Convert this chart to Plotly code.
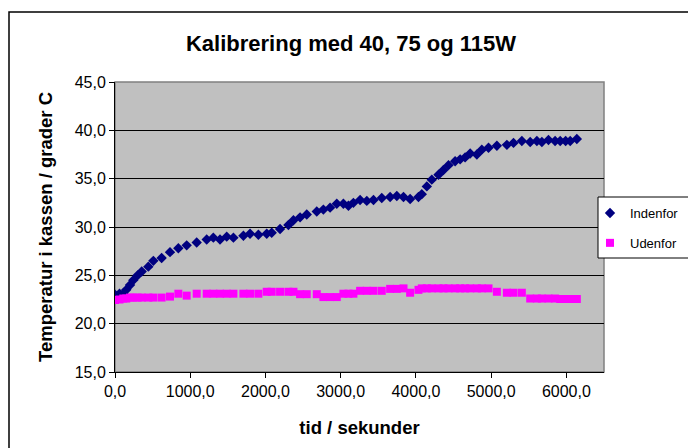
import plotly.graph_objects as go

# time (s) of each reading
tid = [0, 60, 110, 150, 200, 243, 300, 355, 443, 510, 620, 731, 842, 953, 1086,
       1219, 1307, 1396, 1485, 1574, 1707, 1795, 1906, 2017, 2083, 2194, 2305,
       2372, 2460, 2549, 2682, 2770, 2859, 2948, 3036, 3103, 3169, 3258, 3347,
       3436, 3546, 3657, 3746, 3835, 3923, 4034, 4078, 4145, 4211, 4300, 4366,
       4433, 4521, 4588, 4654, 4721, 4810, 4876, 4965, 5076, 5209, 5297, 5408,
       5519, 5608, 5674, 5762, 5850, 5918, 5990, 6051, 6139]

indenfor = [23.0, 23.1, 23.1, 23.5, 24.0, 24.5, 25.0, 25.4, 25.9, 26.5, 26.8,
            27.4, 27.8, 28.1, 28.4, 28.7, 28.9, 28.7, 29.0, 28.9, 29.1, 29.3,
            29.2, 29.3, 29.4, 29.8, 30.2, 30.7, 31.0, 31.3, 31.6, 31.8, 32.0,
            32.4, 32.4, 32.2, 32.5, 32.8, 32.7, 32.8, 33.0, 33.1, 33.2, 33.1,
            32.9, 33.1, 33.4, 34.2, 34.9, 35.4, 35.9, 36.4, 36.8, 37.0, 37.2,
            37.6, 37.5, 38.0, 38.2, 38.4, 38.5, 38.7, 38.9, 38.8, 38.9, 38.8,
            39.0, 38.9, 38.9, 38.9, 38.9, 39.1]

udenfor = [22.45, 22.5, 22.6, 22.6, 22.7, 22.7, 22.7, 22.7, 22.7, 22.7, 22.7,
           22.8, 23.1, 22.9, 23.1, 23.1, 23.1, 23.1, 23.1, 23.1, 23.1, 23.1,
           23.1, 23.3, 23.3, 23.3, 23.3, 23.3, 23.05, 23.05, 23.05, 22.75, 22.75,
           22.75, 23.1, 23.1, 23.1, 23.4, 23.4, 23.4, 23.4, 23.6, 23.6, 23.65,
           23.2, 23.5, 23.65, 23.65, 23.65, 23.65, 23.65, 23.65, 23.65, 23.65,
           23.65, 23.65, 23.65, 23.65, 23.65, 23.3, 23.2, 23.2, 23.2, 22.6,
           22.6, 22.6, 22.6, 22.6, 22.55, 22.55, 22.55, 22.55]

x_ticks = [0, 1000, 2000, 3000, 4000, 5000, 6000]
y_ticks = [15, 20, 25, 30, 35, 40, 45]

FONT = "Liberation Sans, Arial, sans-serif"
W, H = 688, 448
L, R, T, B = 115, 84, 82, 76
PW, PH = W - L - R, H - T - B


def px(x):
    return (x - L) / PW


def py(y):
    return (H - B - y) / PH


fig = go.Figure()
fig.add_trace(go.Scatter(x=tid, y=indenfor, mode="markers", name="Indenfor",
                         legendgroup="a",
                         marker=dict(symbol="diamond", size=8, color="#000080",
                                     line=dict(width=0))))
fig.add_trace(go.Scatter(x=tid, y=udenfor, mode="markers", name="Udenfor",
                         legendgroup="b",
                         marker=dict(symbol="square", size=8, color="#FF00FF",
                                     line=dict(width=0))))

fig.update_layout(
    width=W, height=H,
    margin=dict(l=L, r=R, t=T, b=B, autoexpand=False),
    paper_bgcolor="white", plot_bgcolor="#C0C0C0",
    separators=",.",
    font=dict(family=FONT, color="black"),
    title=dict(text="<b>Kalibrering med 40, 75 og 115W</b>", xref="paper",
               x=px(351), xanchor="center",
               y=1 - 43 / H, yanchor="middle", font=dict(size=22, family=FONT)),
    showlegend=True,
    legend=dict(x=px(590), y=py(198), xanchor="left", yanchor="top",
                bgcolor="rgba(0,0,0,0)", borderwidth=0,
                font=dict(size=13, family=FONT), tracegroupgap=10,
                traceorder="grouped", itemwidth=30),
    xaxis=dict(range=[0, 6500], tickvals=x_ticks, tickformat=".1f",
               showgrid=False, zeroline=False, showline=True, linecolor="black",
               linewidth=1, ticks="outside", ticklen=5, tickcolor="black",
               tickfont=dict(size=16),
               title=dict(text="<b>tid / sekunder</b>", font=dict(size=18.5), standoff=21)),
    yaxis=dict(range=[15, 45], tickvals=y_ticks, tickformat=".1f",
               showgrid=True, gridcolor="black", gridwidth=1, zeroline=False,
               showline=True, linecolor="black", linewidth=1,
               ticks="outside", ticklen=5, tickcolor="black",
               tickfont=dict(size=16),
               title=dict(text="<b>Temperatur i kassen / grader C</b>",
                          font=dict(size=18.5), standoff=17)),
    shapes=[
        dict(type="rect", xref="paper", yref="paper", x0=0, x1=1, y0=0, y1=1,
             line=dict(color="#808080", width=1.5), layer="below"),
        dict(type="rect", xref="paper", yref="paper",
             x0=px(9), x1=px(700), y0=py(460), y1=py(12),
             line=dict(color="black", width=1.5), layer="below"),
        dict(type="rect", xref="paper", yref="paper",
             x0=px(598), x1=px(700), y0=py(258), y1=py(197),
             fillcolor="white", line=dict(color="black", width=1), layer="above"),
    ],
)

fig.write_html("out.html", config={"displayModeBar": False},
               post_script="document.body.style.margin='0px';"
                           "document.body.style.overflow='hidden';")
